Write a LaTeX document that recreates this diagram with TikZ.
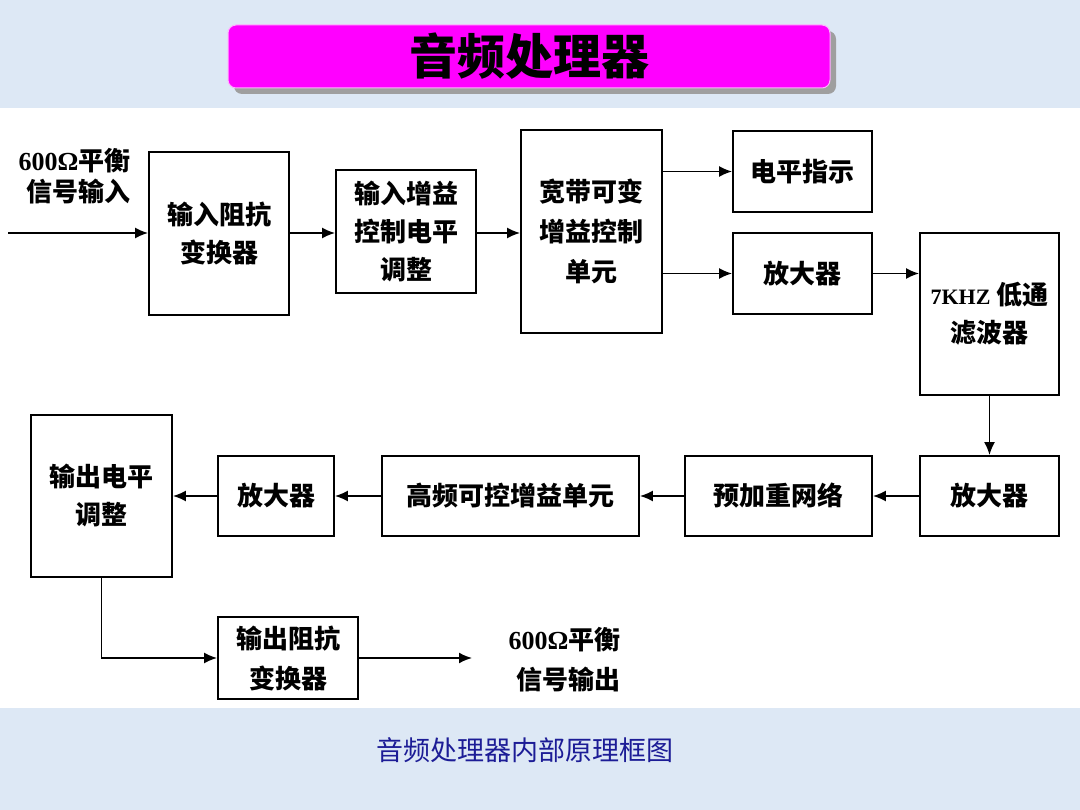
\documentclass[tikz,border=0pt]{standalone}
\usepackage{fontspec}
\setmainfont{Noto Sans CJK SC}
\newfontfamily\numfont{Liberation Serif}
\usetikzlibrary{arrows.meta, positioning, calc, shadows}
\definecolor{bandblue}{RGB}{221,232,245}
\definecolor{titlemag}{RGB}{255,0,255}
\definecolor{capblue}{RGB}{28,28,150}

\begin{document}
\begin{tikzpicture}[x=1pt, y=-1pt, >={Latex[length=13pt,width=11pt]},
    block/.style={draw, line width=1.8pt, fill=white, align=center, inner sep=0pt,
        font=\fontsize{26}{38}\selectfont\bfseries},
    link/.style={->, line width=1.8pt},
    sigtext/.style={align=right, anchor=east, font=\fontsize{26}{31}\selectfont\bfseries}]
    % Background bands
    \useasboundingbox (0,0) rectangle (1080,810);
    \fill[bandblue] (0,0) rectangle (1080,108);
    \fill[white] (0,108) rectangle (1080,708);
    \fill[bandblue] (0,708) rectangle (1080,810);

    % Title
    \node[fill=titlemag, draw=white!70!titlemag, line width=1pt, rounded corners=8pt,
        minimum width=602pt, minimum height=63pt,
        drop shadow={shadow xshift=6pt, shadow yshift=-6pt, fill=gray!75, opacity=1},
        font=\fontsize{48}{50}\selectfont\bfseries] (title) at (529,56.5) {音频处理器};

    % Upper chain
    \node[block, minimum width=140pt, minimum height=163pt] (inimp) at (219,233.5) {输入阻抗\\变换器};
    \node[block, minimum width=140pt, minimum height=123pt] (ingain) at (406,231.5) {输入增益\\控制电平\\调整};
    \node[block, minimum width=141pt, minimum height=203pt, font=\fontsize{26}{40}\selectfont\bfseries] (wide) at (591.5,231.5) {宽带可变\\增益控制\\单元};
    \node[block, minimum width=139pt, minimum height=81pt] (level) at (802.5,171.5) {电平指示};
    \node[block, minimum width=139pt, minimum height=81pt] (amp1) at (802.5,273.5) {放大器};
    \node[block, minimum width=139pt, minimum height=162pt] (lpf) at (989.5,314) {{\numfont\fontsize{22}{22}\selectfont 7KHZ} 低通\\滤波器};

    % Lower chain
    \node[block, minimum width=139pt, minimum height=80pt] (amp2) at (989.5,496) {放大器};
    \node[block, minimum width=187pt, minimum height=80pt] (preemph) at (778.5,496) {预加重网络};
    \node[block, minimum width=257pt, minimum height=80pt] (hfgain) at (510.5,496) {高频可控增益单元};
    \node[block, minimum width=116pt, minimum height=80pt] (amp3) at (276,496) {放大器};
    \node[block, minimum width=141pt, minimum height=162pt] (outlvl) at (101.5,496) {输出电平\\调整};
    \node[block, minimum width=140pt, minimum height=82pt, font=\fontsize{26}{40}\selectfont\bfseries] (outimp) at (288,658) {输出阻抗\\变换器};

    % Signal labels
    \node[sigtext] (inlabel) at (134,176) {{\numfont 600Ω}平衡\\信号输入};
    \node[sigtext, font=\fontsize{26}{40}\selectfont\bfseries] (outlabel) at (624,660) {{\numfont 600Ω}平衡\\信号输出};
    \coordinate (sigin) at (8,233);
    \coordinate (sigout) at (472,658);

    % Connectors
    \draw[link] (sigin) -- (sigin -| inimp.west);
    \draw[link] (inimp.east |- sigin) -- (ingain.west |- sigin);
    \draw[link] (ingain.east |- sigin) -- (wide.west |- sigin);
    \draw[link] (wide.east |- level.west) -- (level.west);
    \draw[link] (wide.east |- amp1.west) -- (amp1.west);
    \draw[link] (amp1.east) -- (amp1.east -| lpf.west);
    \draw[link] (lpf.south) -- (amp2.north);
    \draw[link] (amp2.west) -- (preemph.east);
    \draw[link] (preemph.west) -- (hfgain.east);
    \draw[link] (hfgain.west) -- (amp3.east);
    \draw[link] (amp3.west) -- (outlvl.east);
    \draw[link] (outlvl.south) |- (outimp.west);
    \draw[link] (outimp.east) -- (sigout);

    % Caption
    \node[text=capblue, font=\fontsize{27}{30}\selectfont] (caption) at (525,750) {音频处理器内部原理框图};
\end{tikzpicture}
\end{document}
